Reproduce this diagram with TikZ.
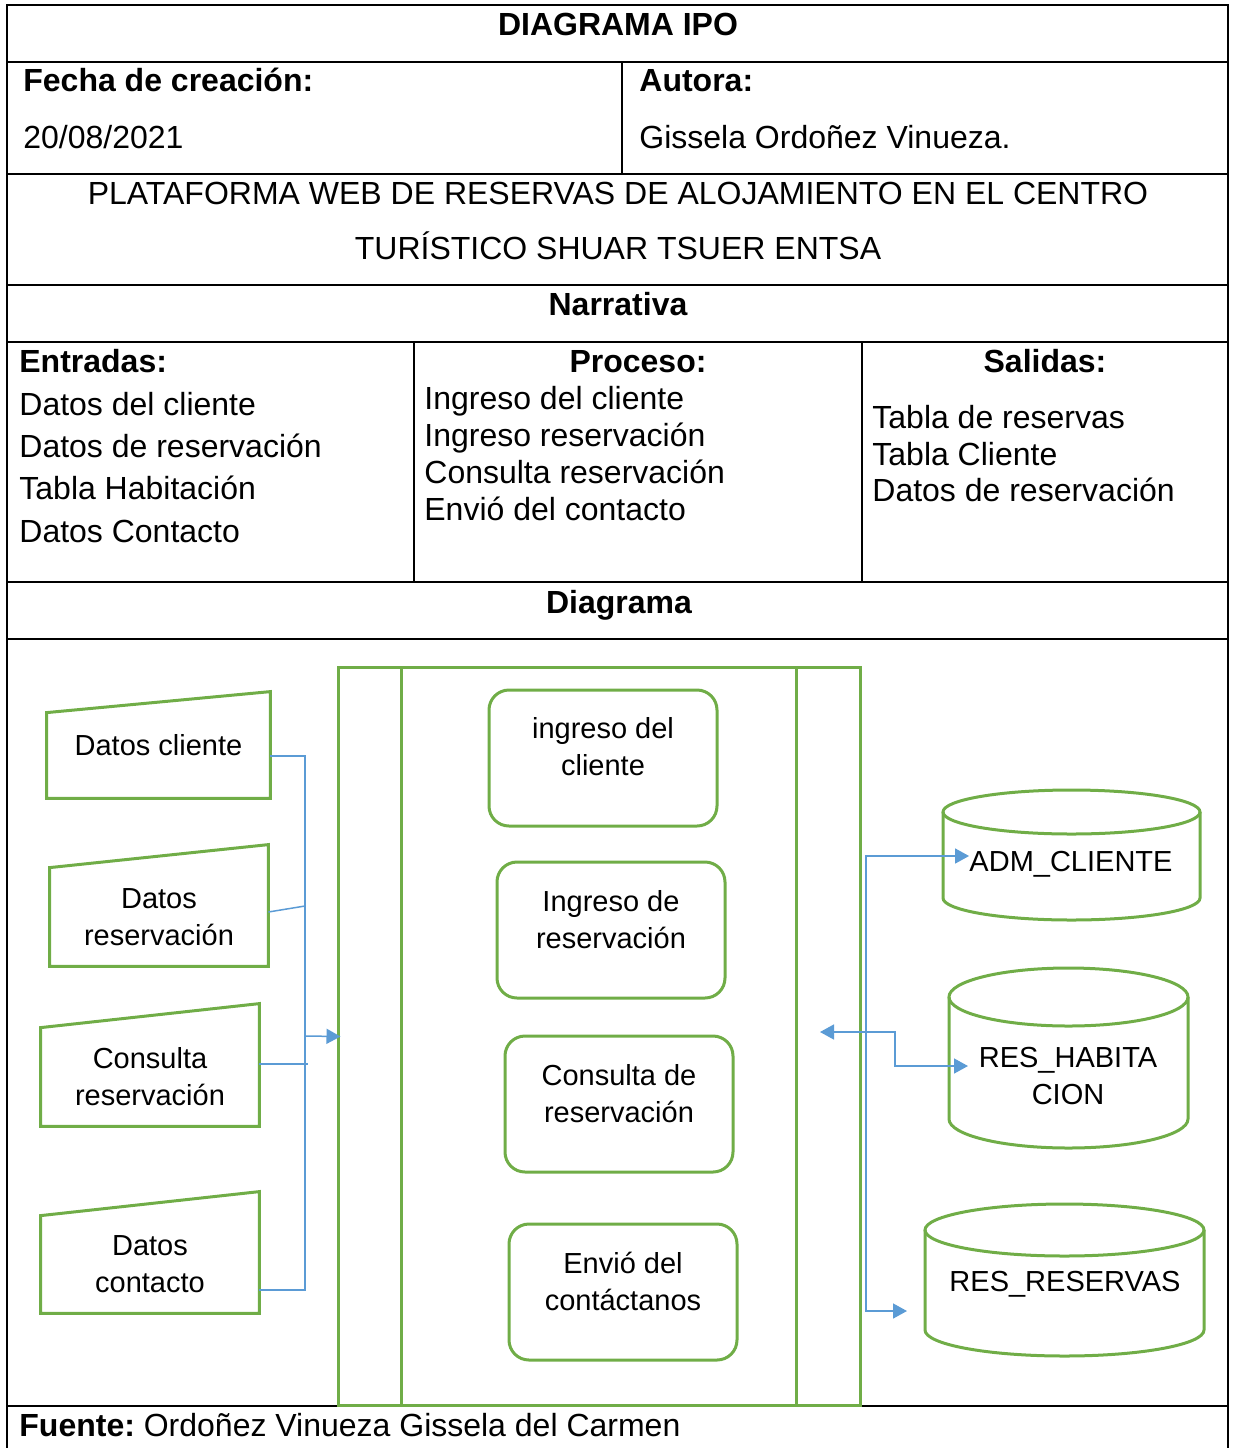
\documentclass[tikz,border=0pt]{standalone}
\usepackage{fontspec}
\setmainfont{Liberation Sans}
\usetikzlibrary{arrows.meta}
\definecolor{ipogreen}{HTML}{70AD47}
\definecolor{ipoblue}{HTML}{5B9BD5}
\newcommand{\tabfont}{\fontsize{16}{19}\selectfont}
\newcommand{\diafont}{\fontsize{14.5}{18.5}\selectfont}
\begin{document}
\begin{tikzpicture}[x=0.5pt, y=-0.5pt,
  >={Triangle[length=7pt, width=7.5pt]},
  tline/.style={draw=black, line width=1pt},
  gline/.style={draw=ipogreen, line width=1.5pt},
  bline/.style={draw=ipoblue, line width=0.75pt},
  txt/.style={inner sep=0pt, font=\tabfont},
  hd/.style={inner sep=0pt, font={\tabfont\bfseries}},
  inbox/.style={inner sep=0pt, font=\diafont, align=center},
  procbox/.style={gline, rounded corners=10pt, minimum width=114pt, minimum height=68pt, inner sep=0pt}]
\useasboundingbox (0,0) rectangle (1235,1448);
\draw[tline] (7,1448) -- (7,5) -- (1228,5) -- (1228,1448);
\foreach \y in {62,174,285,342,582,639,1406}
  \draw[tline] (7,\y) -- (1228,\y);
\draw[tline] (622,62) -- (622,174);
\draw[tline] (414,342) -- (414,582);
\draw[tline] (862,342) -- (862,582);
\node[hd, anchor=base] (titulo) at (618,35) {DIAGRAMA IPO};
\node[hd, anchor=base west] (fecha) at (23,91) {Fecha de creación:};
\node[txt, anchor=base west] (fechaval) at (23,148) {20/08/2021};
\node[hd, anchor=base west] (autora) at (639,91) {Autora:};
\node[txt, anchor=base west] (autoraval) at (639,148) {Gissela Ordoñez Vinueza.};
\node[txt, anchor=base] (plat1) at (618,204) {PLATAFORMA WEB DE RESERVAS DE ALOJAMIENTO EN EL CENTRO};
\node[txt, anchor=base] (plat2) at (618,259) {TURÍSTICO SHUAR TSUER ENTSA};
\node[hd, anchor=base] (narr) at (618,315) {Narrativa};
\node[hd, anchor=base west] (entr) at (19,372) {Entradas:};
\node[txt, anchor=base west] (e1) at (19,415) {Datos del cliente};
\node[txt, anchor=base west] (e2) at (19,457) {Datos de reservación};
\node[txt, anchor=base west] (e3) at (19,499) {Tabla Habitación};
\node[txt, anchor=base west] (e4) at (19,542) {Datos Contacto};
\node[hd, anchor=base] (proce) at (638,372) {Proceso:};
\node[txt, anchor=base west] (pr1) at (424,409) {Ingreso del cliente};
\node[txt, anchor=base west] (pr2) at (424,446) {Ingreso reservación};
\node[txt, anchor=base west] (pr3) at (424,483) {Consulta reservación};
\node[txt, anchor=base west] (pr4) at (424,520) {Envió del contacto};
\node[hd, anchor=base] (sal) at (1045,372) {Salidas:};
\node[txt, anchor=base west] (s1) at (872,428) {Tabla de reservas};
\node[txt, anchor=base west] (s2) at (872,465) {Tabla Cliente};
\node[txt, anchor=base west] (s3) at (872,501) {Datos de reservación};
\node[hd, anchor=base] (diag) at (619,613) {Diagrama};
\node[txt, anchor=base west] (fuente) at (19,1436) {\frenchspacing\textbf{Fuente:} Ordoñez Vinueza Gissela del Carmen};
\node[gline, minimum width=261pt, minimum height=369pt] (proc) at (599,1036.5) {};
\draw[gline] ([xshift=32.5pt]proc.north west) -- ([xshift=32.5pt]proc.south west);
\draw[gline] ([xshift=-32.5pt]proc.north east) -- ([xshift=-32.5pt]proc.south east);
\node[procbox] (p1) at (603,758) {};
\node[procbox] (p2) at (611,930) {};
\node[procbox] (p3) at (619,1104) {};
\node[procbox] (p4) at (623,1292) {};
\node[inbox] (p1t) at ([yshift=5.5pt]p1.center) {ingreso del\\cliente};
\node[inbox] (p2t) at ([yshift=5.25pt]p2.center) {Ingreso de\\reservación};
\node[inbox] (p3t) at ([yshift=5.25pt]p3.center) {Consulta de\\reservación};
\node[inbox] (p4t) at ([yshift=5.25pt]p4.center) {Envió del\\contáctanos};
\node[inbox, minimum width=111.5pt, minimum height=53pt] (d1) at (158.5,745) {Datos cliente};
\node[inbox, minimum width=109pt, minimum height=49pt] (d2) at (159,917) {Datos\\reservación};
\node[inbox, minimum width=109pt, minimum height=49pt] (d3) at (150,1077) {Consulta\\reservación};
\node[inbox, minimum width=109pt, minimum height=48.5pt] (d4) at (150,1264.5) {Datos\\contacto};
\draw[gline] (d1.south west) -- ([yshift=-10.5pt]d1.north west) -- (d1.north east) -- (d1.south east) -- cycle;
\draw[gline] (d2.south west) -- (d2.north west) -- ([yshift=11.5pt]d2.north east) -- (d2.south east) -- cycle;
\draw[gline] (d3.south west) -- (d3.north west) -- ([yshift=12pt]d3.north east) -- (d3.south east) -- cycle;
\draw[gline] (d4.south west) -- (d4.north west) -- ([yshift=12pt]d4.north east) -- (d4.south east) -- cycle;
\draw[gline] (943,812) -- (943,898) arc[start angle=180, end angle=0, x radius=128.5, y radius=22] -- (1200,812);
\draw[gline] (1071.5,812) ellipse [x radius=128.5, y radius=22];
\draw[gline] (949,997) -- (949,1119) arc[start angle=180, end angle=0, x radius=119.5, y radius=29] -- (1188,997);
\draw[gline] (1068.5,997) ellipse [x radius=119.5, y radius=29];
\draw[gline] (925,1230) -- (925,1330) arc[start angle=180, end angle=0, x radius=139.5, y radius=26] -- (1204,1230);
\draw[gline] (1064.5,1230) ellipse [x radius=139.5, y radius=26];
\node[inbox] (adm) at (1071,864) {ADM\_CLIENTE};
\node[inbox] (hab) at (1068,1076) {RES\_HABITA\\CION};
\node[inbox] (res) at (1065,1284) {RES\_RESERVAS};
\coordinate (bb) at (305,1290);
\coordinate (b2) at (305,906);
\coordinate (b3) at (308,1064);
\coordinate (bin) at (305,1036);
\draw[bline] ([yshift=-5.5pt]d1.east) -- ([yshift=-5.5pt]d1.east -| bb) -- (bb) -- (d4.east |- bb);
\draw[bline] ([yshift=2.5pt]d2.east) -- (b2);
\draw[bline] (d3.east |- b3) -- (b3);
\draw[bline, ->] (bin) -- ([xshift=2pt]proc.west);
\coordinate (rt) at (866,856);
\coordinate (rb) at (866,1311);
\coordinate (resin) at (907,1311);
\coordinate (habout) at (820,1032);
\coordinate (habk) at (895,1032);
\coordinate (habin) at (968,1066);
\draw[bline, <->] (adm.west |- rt) -- (rt) -- (rb) -- (resin);
\draw[bline, <->] (habout) -- (habk) |- (habin);
\end{tikzpicture}
\end{document}
